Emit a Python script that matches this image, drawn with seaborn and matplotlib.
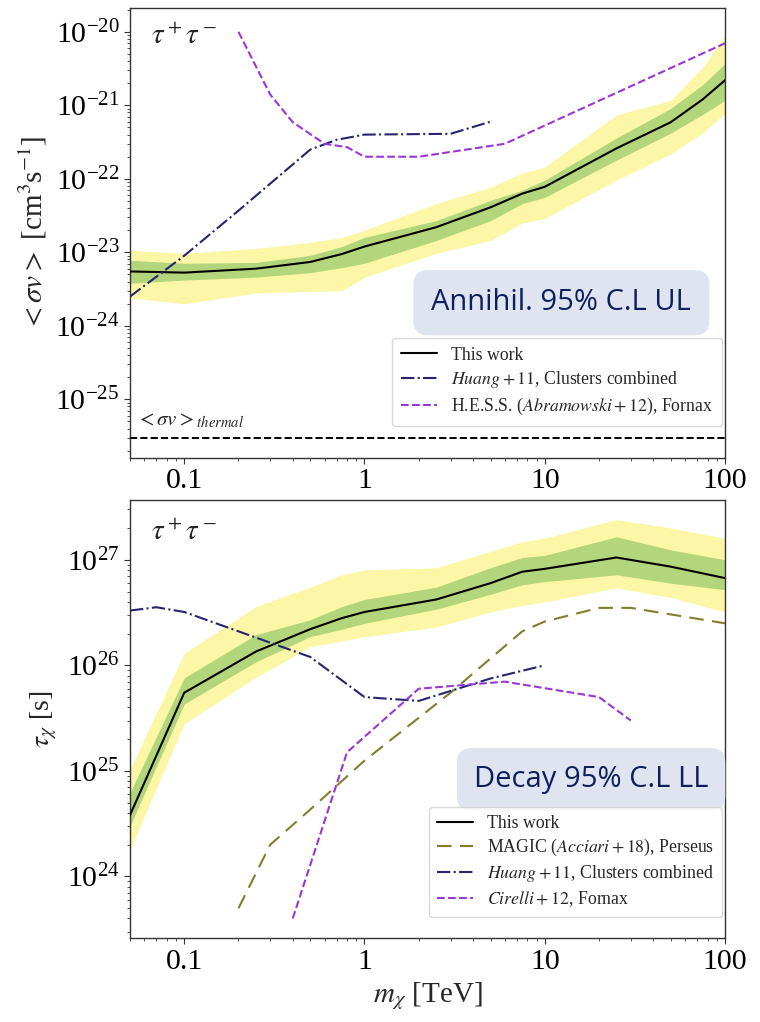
import numpy as np
import pandas as pd
import matplotlib
matplotlib.use("Agg")
import matplotlib.pyplot as plt
import seaborn as sns

# ---------------- data ----------------
# Annihilation (top panel)
ann_mass = [0.05, 0.1, 0.25, 0.5, 0.75, 1, 2.5, 5, 7.5, 10, 25, 50, 75, 100]
ann_med = [5.5e-24, 5.3e-24, 6.0e-24, 7.4e-24, 9.5e-24, 1.2e-23, 2.2e-23, 4.1e-23, 6.3e-23, 7.8e-23, 2.6e-22, 5.9e-22, 1.2e-21, 2.2e-21]
ann_g_hi = [7.8e-24, 7.1e-24, 7.3e-24, 9.1e-24, 1.2e-23, 1.6e-23, 2.7e-23, 5.1e-23, 7.0e-23, 9.6e-23, 3.6e-22, 9.1e-22, 1.9e-21, 3.7e-21]
ann_g_lo = [3.8e-24, 4.2e-24, 4.6e-24, 5.3e-24, 6.2e-24, 7.1e-24, 1.45e-23, 2.7e-23, 4.6e-23, 5.6e-23, 1.8e-22, 4.2e-22, 7.5e-22, 1.17e-21]
ann_y_hi = [1.07e-23, 9.7e-24, 1.13e-23, 1.37e-23, 1.6e-23, 2.0e-23, 4.6e-23, 7.7e-23, 1.2e-22, 1.45e-22, 7.4e-22, 1.17e-21, 3.3e-21, 8.9e-21]
ann_y_lo = [2.4e-24, 2.0e-24, 2.8e-24, 2.95e-24, 3.0e-24, 4.6e-24, 9.7e-24, 1.45e-23, 2.5e-23, 2.9e-23, 9.6e-23, 2.2e-22, 4.2e-22, 7.8e-22]

huang_ann_mass = [0.05, 0.1, 0.2, 0.5, 0.7, 1, 3, 5]
huang_ann_val = [2.5e-24, 9e-24, 3.7e-23, 2.5e-22, 3.4e-22, 4.0e-22, 4.1e-22, 6.0e-22]

hess_mass = [0.2, 0.3, 0.4, 0.6, 0.8, 1, 2, 6, 100]
hess_val = [1e-20, 1.4e-21, 5.9e-22, 3.0e-22, 2.7e-22, 2.0e-22, 2.0e-22, 3.0e-22, 7.0e-21]

thermal_xs = 3e-26

# Decay (bottom panel)
dec_mass = [0.05, 0.1, 0.25, 0.5, 0.75, 1, 2.5, 5, 7.5, 10, 25, 50, 100]
dec_med = [3.8e24, 5.5e25, 1.35e26, 2.2e26, 2.8e26, 3.2e26, 4.2e26, 6.0e26, 7.7e26, 8.2e26, 1.05e27, 8.6e26, 6.7e26]
dec_g_hi = [6.2e24, 7.6e25, 1.95e26, 2.7e26, 3.6e26, 4.2e26, 5.5e26, 8.4e26, 1.05e27, 1.1e27, 1.65e27, 1.24e27, 1.0e27]
dec_g_lo = [3.0e24, 4.3e25, 1.08e26, 1.87e26, 2.2e26, 2.5e26, 3.4e26, 4.7e26, 5.8e26, 6.2e26, 7.2e26, 6.0e26, 5.2e26]
dec_y_hi = [1.03e25, 1.3e26, 3.6e26, 5.5e26, 7.2e26, 8.0e26, 8.4e26, 1.2e27, 1.48e27, 1.6e27, 2.4e27, 2.0e27, 1.6e27]
dec_y_lo = [1.8e24, 2.8e25, 7.7e25, 1.5e26, 1.7e26, 1.87e26, 2.3e26, 3.2e26, 3.7e26, 4.0e26, 5.4e26, 4.4e26, 3.2e26]

magic_mass = [0.2, 0.3, 0.5, 1, 3, 7.5, 10, 20, 30, 100]
magic_val = [5e23, 2e24, 4.3e24, 1.25e25, 5.5e25, 2.1e26, 2.6e26, 3.5e26, 3.5e26, 2.5e26]

huang_dec_mass = [0.05, 0.07, 0.1, 0.5, 1, 2, 5, 10]
huang_dec_val = [3.3e26, 3.55e26, 3.2e26, 1.2e26, 5.0e25, 4.6e25, 7.5e25, 1.0e26]

cirelli_mass = [0.4, 0.8, 2, 6, 20, 30]
cirelli_val = [4e23, 1.5e25, 6e25, 7e25, 5e25, 3e25]

x_ticks = [0.1, 1, 10, 100]
x_ticklabels = ["0.1", "1", "10", "100"]

# ---------------- style ----------------
sns.set_theme(style="ticks")
plt.rcParams["font.family"] = ["Liberation Serif", "DejaVu Serif"]
plt.rcParams["mathtext.fontset"] = "stix"
plt.rcParams["axes.edgecolor"] = "#333333"
plt.rcParams["xtick.color"] = "#333333"
plt.rcParams["ytick.color"] = "#333333"
plt.rcParams["xtick.labelcolor"] = "black"
plt.rcParams["ytick.labelcolor"] = "black"

YELLOW = "#fbf7a6"
GREEN = "#b3d57c"
NAVY = "#25256f"
PURPLE = "#9b35d6"
OLIVE = "#7f7f2e"
BOXC = "#dfe5f0"
BOXT = "#0f1f5c"

fig = plt.figure(figsize=(7.6, 10.22), dpi=100)
ax1 = fig.add_axes([0.171, 0.552, 0.783, 0.440])
ax2 = fig.add_axes([0.171, 0.082, 0.783, 0.429])


def setup(ax):
    ax.set_xscale("log")
    ax.set_yscale("log")
    ax.set_xlim(0.05, 100)
    ax.set_xticks(x_ticks)
    ax.set_xticklabels(x_ticklabels)
    ax.tick_params(axis="both", which="major", labelsize=21.5, length=4, width=0.8)
    ax.tick_params(axis="both", which="minor", length=2, width=0.6)
    for s in ax.spines.values():
        s.set_visible(True)
        s.set_linewidth(1.0)


# ---------------- top panel ----------------
ax = ax1
setup(ax)
ax.fill_between(ann_mass, ann_y_lo, ann_y_hi, color=YELLOW, lw=0, zorder=1)
ax.fill_between(ann_mass, ann_g_lo, ann_g_hi, color=GREEN, lw=0, zorder=2)
sns.lineplot(x=ann_mass, y=ann_med, ax=ax, color="black", lw=1.5, label="This work",
             estimator=None, sort=False, zorder=3)
sns.lineplot(x=huang_ann_mass, y=huang_ann_val, ax=ax, color=NAVY, lw=1.5, linestyle="-.",
             label=r"$Huang+11$, Clusters combined", estimator=None, sort=False, zorder=3)
sns.lineplot(x=hess_mass, y=hess_val, ax=ax, color=PURPLE, lw=1.5, linestyle="--",
             label=r"H.E.S.S. ($Abramowski+12$), Fornax", estimator=None, sort=False, zorder=3)
ax.axhline(thermal_xs, color="black", lw=1.4, linestyle="--", zorder=3)
ax.set_ylim(1.6e-26, 2.1e-20)
ax.set_yticks([1e-25, 1e-24, 1e-23, 1e-22, 1e-21, 1e-20])
ax.set_ylabel(r"$<\sigma v>$ [cm$^3$s$^{-1}$]", fontsize=21, labelpad=4)
ax.text(0.035, 0.965, r"$\tau^+\tau^-$", transform=ax.transAxes, fontsize=21, va="top", ha="left")
ax.text(0.01, 0.062, r"$<\sigma v>_{thermal}$", transform=ax.transAxes, fontsize=15, va="bottom", ha="left")
ax.text(0.725, 0.345, "Annihil. 95% C.L UL", transform=ax.transAxes, fontsize=21,
        family="Open Sans", color=BOXT, ha="center", va="center",
        bbox=dict(boxstyle="round,pad=0.62,rounding_size=0.5", fc=BOXC, ec="none"))
leg = ax.legend(loc="lower right", bbox_to_anchor=(0.995, 0.07), borderaxespad=0,
                fontsize=12.8, frameon=True, handlelength=2.0, borderpad=0.5,
                labelspacing=0.33, fancybox=True)
leg.get_frame().set_edgecolor("#d0d0d0")
ax.set_xlabel("")

# ---------------- bottom panel ----------------
ax = ax2
setup(ax)
ax.fill_between(dec_mass, dec_y_lo, dec_y_hi, color=YELLOW, lw=0, zorder=1)
ax.fill_between(dec_mass, dec_g_lo, dec_g_hi, color=GREEN, lw=0, zorder=2)
sns.lineplot(x=dec_mass, y=dec_med, ax=ax, color="black", lw=1.5, label="This work",
             estimator=None, sort=False, zorder=3)
sns.lineplot(x=magic_mass, y=magic_val, ax=ax, color=OLIVE, lw=1.5, dashes=(7, 4),
             label=r"MAGIC ($Acciari+18$), Perseus", estimator=None, sort=False, zorder=3)
sns.lineplot(x=huang_dec_mass, y=huang_dec_val, ax=ax, color=NAVY, lw=1.5, linestyle="-.",
             label=r"$Huang+11$, Clusters combined", estimator=None, sort=False, zorder=3)
sns.lineplot(x=cirelli_mass, y=cirelli_val, ax=ax, color=PURPLE, lw=1.5, linestyle="--",
             label=r"$Cirelli+12$, Fornax", estimator=None, sort=False, zorder=3)
ax.set_ylim(2.6e23, 3.7e27)
ax.set_yticks([1e24, 1e25, 1e26, 1e27])
ax.set_ylabel(r"$\tau_\chi$ [s]", fontsize=20, labelpad=6)
ax.set_xlabel(r"$m_\chi$ [TeV]", fontsize=21)
ax.text(0.035, 0.955, r"$\tau^+\tau^-$", transform=ax.transAxes, fontsize=21, va="top", ha="left")
ax.text(0.775, 0.362, "Decay 95% C.L LL", transform=ax.transAxes, fontsize=21,
        family="Open Sans", color=BOXT, ha="center", va="center",
        bbox=dict(boxstyle="round,pad=0.58,rounding_size=0.5", fc=BOXC, ec="none"))
leg = ax.legend(loc="lower right", bbox_to_anchor=(0.995, 0.048), borderaxespad=0,
                fontsize=12.8, frameon=True, handlelength=2.0, borderpad=0.45,
                labelspacing=0.28, fancybox=True)
leg.get_frame().set_edgecolor("#d0d0d0")

fig.savefig("out.png", dpi=100, facecolor="white")
